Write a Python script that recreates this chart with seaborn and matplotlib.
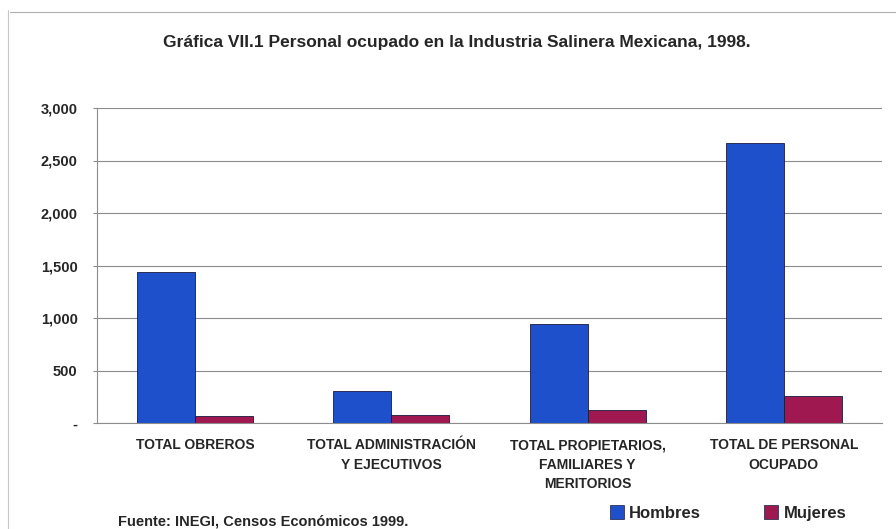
import matplotlib
matplotlib.use("Agg")
import matplotlib.pyplot as plt
import seaborn as sns
import pandas as pd
from matplotlib.patches import Patch
from matplotlib.lines import Line2D

categorias = [
    "TOTAL OBREROS",
    "TOTAL ADMINISTRACIÓN\nY EJECUTIVOS",
    "TOTAL PROPIETARIOS,\nFAMILIARES Y\nMERITORIOS",
    "TOTAL DE PERSONAL\nOCUPADO",
]
hombres = [1435, 305, 945, 2670]
mujeres = [62, 78, 122, 257]
series = ["Hombres", "Mujeres"]
colores = ["#1F50CC", "#A01850"]
yticks = [0, 500, 1000, 1500, 2000, 2500, 3000]
ytick_labels = ["-", "500", "1,000", "1,500", "2,000", "2,500", "3,000"]

df = pd.DataFrame({
    "categoria": categorias * 2,
    "serie": [series[0]] * 4 + [series[1]] * 4,
    "valor": hombres + mujeres,
})

sns.set_theme(style="white")
plt.rcParams["font.family"] = ["Liberation Sans", "DejaVu Sans"]

W, H = 896, 529
fig = plt.figure(figsize=(W / 100, H / 100), dpi=100)
ax = fig.add_axes([97 / W, (H - 423) / H, 785 / W, 315 / H])

sns.barplot(data=df, x="categoria", y="valor", hue="serie", order=categorias,
            hue_order=series, palette=colores, saturation=1, width=0.59, gap=0,
            edgecolor="#1a1a40", linewidth=0.6, legend=False, ax=ax)

ax.set_xlim(-0.5, 3.5)
ax.set_ylim(0, 3000)
ax.set_yticks(yticks)
ax.set_yticklabels(ytick_labels, fontsize=10.5, fontweight="bold")
ax.set_xlabel("")
ax.set_ylabel("")
ax.yaxis.grid(True, color="#8c8c8c", linewidth=0.8)
ax.set_axisbelow(True)
for s in ["top", "right"]:
    ax.spines[s].set_visible(False)
for s in ["left", "bottom"]:
    ax.spines[s].set_color("#8c8c8c")
    ax.spines[s].set_linewidth(0.8)

ax.set_xticks(range(len(categorias)))
ax.set_xticklabels(categorias, fontsize=10, fontweight="bold", linespacing=1.5,
                   va="top")
ax.tick_params(axis="x", which="major", length=0, pad=11)
ax.set_xticks([-0.5, 0.5, 1.5, 2.5, 3.5], minor=True)
ax.tick_params(axis="x", which="minor", length=3, color="#8c8c8c", width=0.8)
ax.tick_params(axis="y", length=3, color="#8c8c8c", width=0.8, left=True, pad=11)

fig.text(457 / W, 1 - 43 / H, "Gráfica VII.1 Personal ocupado en la Industria Salinera Mexicana, 1998.",
         ha="center", va="center", fontsize=12.5, fontweight="bold")

handles = [Patch(facecolor=c, edgecolor="#1a1a40", linewidth=0.5) for c in colores]
fig.legend(handles, series, loc="center", bbox_to_anchor=(728 / W, 1 - 513 / H),
           ncol=2, frameon=False, handlelength=0.85, handleheight=0.85,
           handletextpad=0.3, columnspacing=3.8,
           prop={"weight": "bold", "size": 12})

fig.text(118 / W, 1 - 522 / H, "Fuente: INEGI, Censos Económicos 1999.",
         ha="left", va="center", fontsize=10.5, fontweight="bold")

# outer chart frame
fig.add_artist(Line2D([10 / W, 1], [1 - 12 / H, 1 - 12 / H], transform=fig.transFigure,
                      color="#b0b0b0", linewidth=0.8))
fig.add_artist(Line2D([8 / W, 8 / W], [0, 1 - 10 / H], transform=fig.transFigure,
                      color="#c8c8c8", linewidth=0.8))

fig.savefig("out.png", dpi=100, facecolor="white")
